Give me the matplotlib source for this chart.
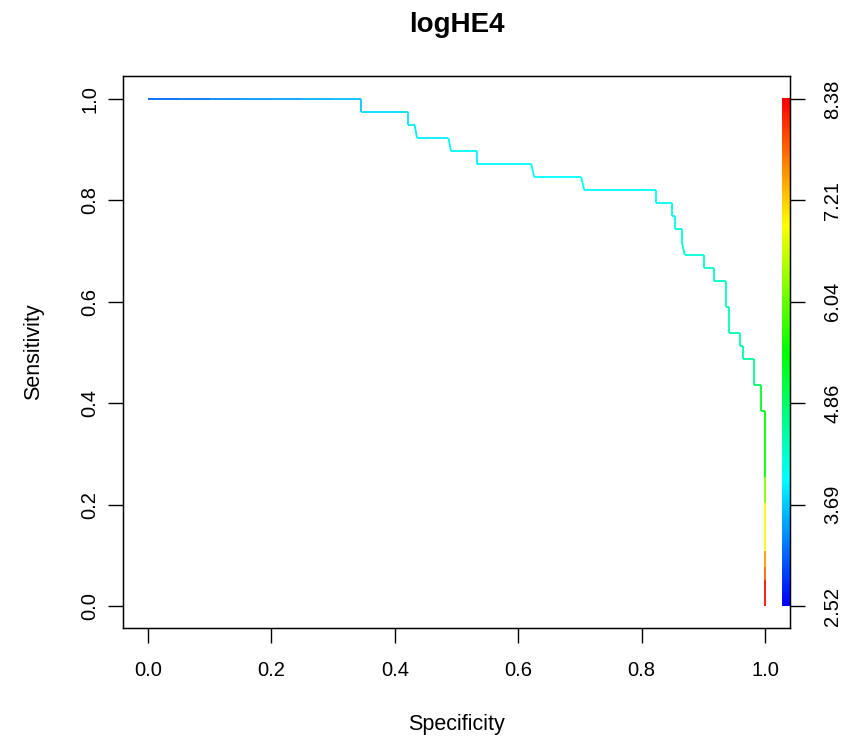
"""
ROC curve for logHE4, coloured by cutoff (ROCR colorize style).
"""

import numpy as np
import matplotlib
matplotlib.use("Agg")
import matplotlib.pyplot as plt
from matplotlib.collections import LineCollection
from matplotlib.colors import ListedColormap, Normalize, hsv_to_rgb

plt.rcParams["font.family"] = ["Liberation Sans", "DejaVu Sans"]

# ─────────────────────────────────────
# data
# ─────────────────────────────────────
specificity = [
    0.0, 0.05, 0.10, 0.15, 0.20, 0.25, 0.30, 0.345,
    0.345, 0.421, 0.421, 0.432, 0.436, 0.487, 0.491, 0.533,
    0.533, 0.621, 0.626, 0.702, 0.707, 0.824, 0.824, 0.849,
    0.849, 0.854, 0.854, 0.865, 0.865, 0.870, 0.901, 0.901,
    0.918, 0.918, 0.936, 0.936, 0.941, 0.941, 0.959, 0.959,
    0.965, 0.965, 0.982, 0.982, 0.994, 0.994, 1.0,
    1.0, 1.0, 1.0, 1.0, 1.0, 1.0,
]
sensitivity = [
    1.0, 1.0, 1.0, 1.0, 1.0, 1.0, 1.0, 1.0,
    0.974, 0.974, 0.949, 0.949, 0.923, 0.923, 0.897, 0.897,
    0.872, 0.872, 0.846, 0.846, 0.8205, 0.8205, 0.795, 0.795,
    0.769, 0.769, 0.744, 0.744, 0.718, 0.692, 0.692, 0.667,
    0.667, 0.641, 0.641, 0.590, 0.590, 0.538, 0.538, 0.513,
    0.513, 0.487, 0.487, 0.436, 0.436, 0.385, 0.385,
    0.254, 0.203, 0.108, 0.077, 0.051, 0.0,
]
# cutoff at each vertex (colours the segment that starts there)
cutoff = [
    3.10, 3.20, 3.30, 3.40, 3.48, 3.56, 3.63, 3.70,
    3.80, 3.85, 3.88, 3.90, 3.92, 3.94, 3.95, 3.96,
    3.97, 3.98, 3.99, 4.00, 4.02, 4.05, 4.08, 4.10,
    4.12, 4.14, 4.16, 4.18, 4.20, 4.22, 4.25, 4.28,
    4.30, 4.32, 4.35, 4.38, 4.40, 4.42, 4.45, 4.48,
    4.50, 4.55, 4.65, 4.90, 5.20, 5.30, 5.45,
    6.20, 6.90, 7.50, 7.80, 8.30, 8.38,
]

cut_min, cut_max = 2.52, 8.38
cut_labels = ["2.52", "3.69", "4.86", "6.04", "7.21", "8.38"]
axis_ticks = [0.0, 0.2, 0.4, 0.6, 0.8, 1.0]
tick_labels = ["0.0", "0.2", "0.4", "0.6", "0.8", "1.0"]

# R rainbow(start=0, end=4/6), reversed: blue -> cyan -> green -> yellow -> red
hues = np.linspace(2 / 3, 0, 256)
cmap = ListedColormap(hsv_to_rgb(np.column_stack([hues, np.ones(256), np.ones(256)])))
norm = Normalize(cut_min, cut_max)

fig = plt.figure(figsize=(8.45, 7.42), dpi=100)
ax = fig.add_axes([123 / 845, 1 - 628 / 742, 667 / 845, 552 / 742])

pts = np.column_stack([specificity, sensitivity])
segs = np.stack([pts[:-1], pts[1:]], axis=1)
lc = LineCollection(segs, colors=cmap(norm(np.array(cutoff[:-1]))), linewidth=1.3,
                    capstyle="butt", joinstyle="miter")
ax.add_collection(lc)

# colour key strip on the right edge
grad = np.linspace(cut_min, cut_max, 256).reshape(-1, 1)
ax.imshow(grad, cmap=cmap, norm=norm, origin="lower", aspect="auto",
          extent=[1.028, 1.0405, 0.0, 1.0], interpolation="nearest", zorder=1)

ax.set_xlim(-0.0405, 1.0405)
ax.set_ylim(-0.043, 1.045)

ax.set_xticks(axis_ticks)
ax.set_xticklabels(tick_labels)
ax.set_yticks(axis_ticks)
ax.set_yticklabels(tick_labels, rotation=90, va="center")
ax.tick_params(axis="both", direction="out", length=11, width=1, labelsize=14.5)
ax.tick_params(axis="x", pad=13)
ax.tick_params(axis="y", pad=6)
for sp in ax.spines.values():
    sp.set_linewidth(1)

ax2 = ax.twinx()
ax2.set_ylim(ax.get_ylim())
ax2.set_yticks(axis_ticks)
ax2.set_yticklabels(cut_labels, rotation=90, va="center")
ax2.tick_params(axis="y", direction="out", length=11, width=1, labelsize=14.5, pad=13)

ax.set_xlabel("Specificity", fontsize=15.5, labelpad=24)
ax.set_ylabel("Sensitivity", fontsize=15.5, labelpad=26)
ax.set_title("logHE4", fontsize=20, fontweight="bold", pad=32)

fig.savefig("out.png", dpi=100)
